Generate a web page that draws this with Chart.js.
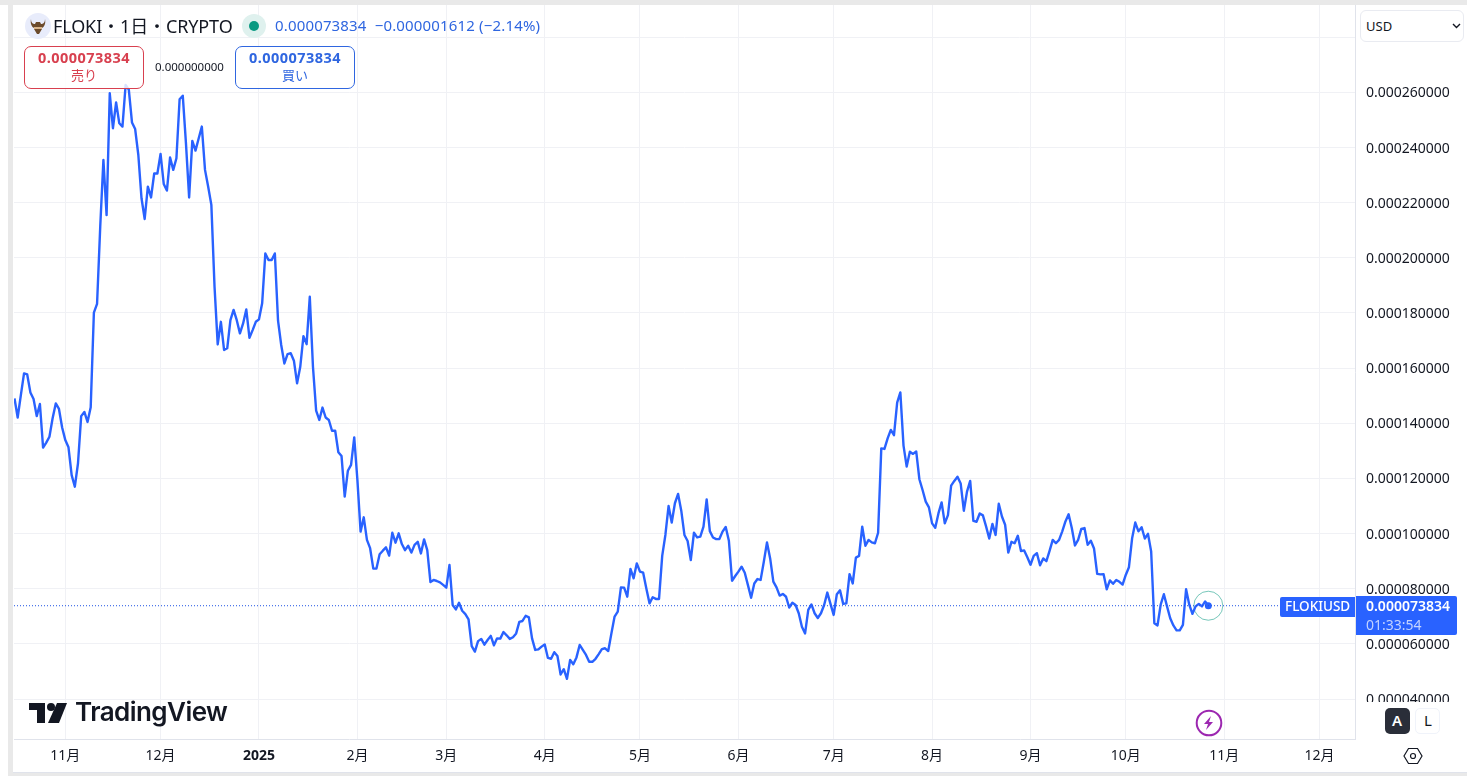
<!DOCTYPE html>
<html lang="ja">
<head>
<meta charset="utf-8">
<title>FLOKIUSD</title>
<script src="https://cdn.jsdelivr.net/npm/chart.js@4"></script>
<style>
  html, body { margin: 0; padding: 0; background: #fff; overflow: hidden; }
  body { width: 1467px; height: 776px; position: relative; font-family: "Noto Sans", "Noto Sans CJK JP", sans-serif; color: #131722; }
  #chartWrap { position: absolute; left: 0; top: 0; width: 1467px; height: 776px; }
  .box { position: absolute; box-sizing: border-box; }
  .txt { position: absolute; white-space: nowrap; line-height: 1; }
  .btn { border-radius: 7px; border: 1px solid; background: rgba(255,255,255,.82); text-align: center; width: 120px; height: 43px; top: 46px; font-size: 13px; line-height: 16px; padding-top: 1px; }
  .btn b { display: block; font-size: 14.5px; font-weight: 700; line-height: 19px; letter-spacing: .45px; }
</style>
</head>
<body>
<div id="chartWrap"><canvas id="priceChart" width="1467" height="776"></canvas></div>

<!-- window edges -->
<div class="box" style="left:0;top:0;width:1467px;height:5px;background:#e9e9e9"></div>
<div class="box" style="left:8px;top:0;width:5px;height:776px;background:#e9e9e9"></div>
<div class="box" style="left:13px;top:773px;width:1454px;height:3px;background:#e9e9e9"></div>
<div class="box" style="left:13px;top:772px;width:1454px;height:1px;background:#e0e3eb"></div>

<!-- header -->
<svg class="box" style="left:25px;top:13px" width="26" height="26" viewBox="0 0 26 26">
  <circle cx="13" cy="13" r="13" fill="#e8ecfb"/>
  <path d="M6 6c0 4 2 5 4 5l1-2h4l1 2c2 0 4-1 4-5 1 5-1 8-3 9v1l-3 5h-2l-3-5v-1c-2-1-4-4-3-9z" fill="#6b4a2b"/>
  <rect x="9" y="14" width="8" height="2" fill="#d9b48a"/>
</svg>
<div class="txt" style="left:53px;top:17px;font-size:18px;letter-spacing:-.12px">FLOKI・1日・CRYPTO</div>
<div class="box" style="left:242px;top:14px;width:24px;height:24px;border-radius:50%;background:#dff1ee"></div>
<div class="box" style="left:249px;top:21px;width:10px;height:10px;border-radius:50%;background:#089981"></div>
<div class="txt" style="left:275px;top:18px;font-size:15px;letter-spacing:.16px;color:#2f66e0">0.000073834&nbsp; −0.000001612 (−2.14%)</div>

<div class="box btn" style="left:24px;border-color:#d8404f;color:#d8404f"><b>0.000073834</b>売り</div>
<div class="txt" style="left:155px;top:61px;font-size:11.5px">0.000000000</div>
<div class="box btn" style="left:235px;border-color:#2f66e0;color:#2f66e0"><b>0.000073834</b>買い</div>

<!-- currency select -->
<div class="box" style="left:1356px;top:5px;width:111px;height:50px;background:#fff"></div>
<div class="box" style="left:1360px;top:10px;width:104px;height:32px;border:1px solid #e9ebf1;border-radius:6px"></div>
<div class="txt" style="left:1366px;top:20px;font-size:13px">USD</div>
<svg class="box" style="left:1452px;top:23px" width="9" height="6" viewBox="0 0 9 6"><path d="M1 1l3.5 3.5L8 1" fill="none" stroke="#131722" stroke-width="1.4"/></svg>

<!-- current price labels -->
<div class="box" style="left:1280px;top:597px;width:75px;height:20px;background:#2962ff;border-radius:2px 0 0 2px"></div>
<div class="txt" style="left:1285px;top:600px;font-size:13.5px;font-weight:500;color:#fff">FLOKIUSD</div>
<div class="box" style="left:1356px;top:596px;width:101px;height:39px;background:#2962ff;border-radius:0 2px 2px 0"></div>
<div class="txt" style="left:1366px;top:599px;font-size:14px;font-weight:600;color:#fff">0.000073834</div>
<div class="txt" style="left:1366px;top:618px;font-size:14px;color:#c3d3ff">01:33:54</div>

<!-- watermark -->
<svg class="box" style="left:28px;top:702px" width="40" height="22" viewBox="0 0 40 22">
  <path d="M1 1h16v20h-8V8H1z" fill="#131722"/>
  <circle cx="23" cy="5" r="4" fill="#131722"/>
  <path d="M29 1h10l-8 20H20z" fill="#131722"/>
</svg>
<div class="txt" style="left:75px;top:699px;font-size:26px;font-weight:600;font-family:Inter,'Noto Sans',sans-serif;letter-spacing:-.55px">TradingView</div>

<!-- bolt mark -->
<svg class="box" style="left:1195px;top:709px" width="28" height="28" viewBox="0 0 28 28">
  <circle cx="14" cy="14" r="12.3" fill="#fff" stroke="#9c27b0" stroke-width="2"/>
  <path d="M16 7l-7 8h4l-2 6 7-8h-4z" fill="#9c27b0"/>
</svg>

<!-- scale mode buttons -->
<div class="box" style="left:1356px;top:702px;width:111px;height:37px;background:#fff"></div>
<div class="box" style="left:1385px;top:708px;width:25px;height:26px;background:#2a2e39;border-radius:5px"></div>
<div class="txt" style="left:1392px;top:713px;font-size:15px;font-weight:600;color:#fff">A</div>
<div class="box" style="left:1415px;top:708px;width:25px;height:26px;border:1px solid #f0f3fa;border-radius:5px"></div>
<div class="txt" style="left:1424px;top:713px;font-size:15px">L</div>
<svg class="box" style="left:1403px;top:747px" width="20" height="18" viewBox="0 0 20 18">
  <path d="M5.5 1.5h9L19 9l-4.5 7.5h-9L1 9z" fill="none" stroke="#131722" stroke-width="1.2"/>
  <circle cx="10" cy="9" r="2.5" fill="none" stroke="#131722" stroke-width="1.2"/>
</svg>

<script>
// one close per day, starting 2024-10-16, in millionths of a dollar
const closes = [
  149.0, 142.1, 150.2, 158.1, 157.7, 151.2, 148.8, 142.6, 147.0, 131.2,
  133.0, 135.1, 141.8, 147.2, 145.2, 138.5, 133.9, 131.3, 121.2, 117.0,
  125.5, 142.6, 144.1, 140.5, 145.8, 180.1, 183.3, 211.3, 235.5, 215.5,
  259.7, 247.0, 256.4, 248.8, 247.6, 262.7, 261.0, 249.1, 246.7, 237.3,
  221.6, 214.1, 225.8, 221.9, 230.6, 230.6, 237.7, 226.8, 224.4, 236.4,
  231.9, 236.1, 257.5, 258.8, 241.5, 221.9, 242.4, 238.9, 243.3, 247.6,
  231.9, 225.8, 219.2, 189.5, 168.6, 176.8, 166.6, 167.2, 177.4, 181.1,
  177.4, 172.6, 176.2, 181.3, 171.0, 173.8, 176.8, 177.7, 183.5, 201.6,
  199.2, 199.2, 201.6, 177.2, 168.4, 161.7, 165.1, 165.4, 162.7, 154.5,
  160.5, 171.6, 168.7, 185.9, 160.5, 144.6, 141.2, 145.7, 142.1, 141.2,
  137.3, 137.3, 129.5, 128.1, 113.4, 122.8, 124.9, 134.9, 119.4, 100.7,
  105.9, 97.7, 94.7, 87.3, 87.3, 92.5, 93.8, 95.0, 92.0, 100.3,
  96.7, 100.1, 96.2, 94.0, 95.6, 93.1, 95.9, 97.0, 92.8, 97.9,
  94.0, 82.4, 83.2, 82.8, 82.3, 81.4, 80.4, 88.6, 74.1, 72.5,
  74.9, 72.0, 70.8, 68.9, 59.2, 57.2, 61.0, 61.8, 59.7, 61.4,
  62.9, 59.5, 62.0, 61.9, 64.3, 63.1, 61.8, 62.4, 63.8, 68.0,
  68.3, 70.2, 69.6, 62.0, 57.8, 58.0, 59.0, 59.8, 54.9, 54.6,
  57.0, 55.6, 48.9, 50.8, 47.3, 54.2, 52.6, 55.1, 59.6, 57.8,
  56.0, 53.5, 53.5, 54.6, 56.3, 58.1, 58.4, 57.4, 63.8, 69.9,
  71.7, 80.5, 80.4, 77.1, 87.2, 83.8, 89.2, 86.2, 85.8, 80.1,
  74.7, 76.9, 76.3, 76.3, 91.9, 99.5, 110.0, 104.0, 111.0, 114.4,
  108.3, 99.5, 97.3, 90.4, 100.3, 98.6, 98.9, 102.5, 112.4, 100.9,
  98.6, 98.0, 98.0, 100.7, 102.4, 97.4, 82.9, 84.6, 86.2, 88.0,
  85.8, 81.3, 76.7, 81.9, 83.5, 83.2, 89.8, 96.8, 91.0, 82.6,
  80.5, 77.5, 78.1, 77.1, 73.2, 74.9, 74.1, 71.1, 66.2, 63.8,
  72.3, 74.3, 71.1, 69.4, 71.1, 74.1, 78.6, 74.5, 70.5, 78.0,
  79.4, 74.5, 74.7, 85.3, 81.9, 91.3, 91.9, 102.5, 95.6, 97.7,
  96.8, 96.5, 100.3, 130.9, 130.7, 134.5, 137.6, 135.7, 147.5, 151.2,
  131.9, 124.3, 129.7, 128.9, 129.8, 119.7, 115.8, 111.6, 109.5, 103.7,
  102.1, 107.3, 111.3, 103.7, 106.7, 117.4, 119.1, 120.6, 118.2, 108.3,
  115.2, 119.1, 104.6, 104.3, 107.3, 106.6, 102.6, 98.2, 103.5, 99.5,
  110.8, 106.2, 103.2, 93.1, 97.0, 96.5, 99.2, 93.7, 93.9, 91.4,
  88.7, 91.9, 92.9, 88.5, 91.0, 90.0, 93.7, 97.7, 96.5, 97.7,
  100.8, 104.4, 107.0, 102.0, 95.7, 97.7, 101.7, 102.0, 95.9, 97.4,
  94.6, 85.4, 85.2, 85.3, 79.8, 83.0, 81.8, 83.2, 82.5, 81.5,
  85.0, 87.8, 98.3, 104.0, 100.8, 102.3, 98.2, 99.9, 93.5, 67.5,
  66.7, 74.2, 78.0, 73.6, 69.3, 66.7, 64.9, 64.9, 66.9, 79.8,
  74.2, 70.9, 73.6, 74.5, 73.6, 75.4, 73.834
];
const lastClose = 73.834;

// days since the first close, and what the time axis prints there
const monthTickDays = [16, 46, 77, 108, 136, 167, 197, 228, 258, 289, 320, 350, 381, 411];
const monthTickLabels = ["11月", "12月", "2025", "2月", "3月", "4月", "5月", "6月", "7月", "8月", "9月", "10月", "11月", "12月"];

const uiFont = '"Noto Sans", "Noto Sans CJK JP", sans-serif';
const priceLine = closes.map((v, i) => ({ x: i, y: v }));

// chart area has to sit exactly on the panes, so drop the label overhang
function noOverhang(scale) {
  scale.paddingLeft = 0;
  scale.paddingRight = 0;
  scale.paddingTop = 0;
  scale.paddingBottom = 0;
}

const ctx = document.getElementById("priceChart").getContext("2d");
const chart = new Chart(ctx, {
  type: "line",
  data: {
    datasets: [
      {
        // current price line
        data: [{ x: -0.16, y: lastClose }, { x: 398.5, y: lastClose }],
        borderColor: "#1e53e5",
        borderWidth: 1,
        borderDash: [1, 2],
        pointRadius: 0,
      },
      {
        label: "FLOKIUSD",
        data: priceLine,
        borderColor: "#2962ff",
        borderWidth: 2.4,
        borderJoinStyle: "round",
        tension: 0,
        pointRadius: 0,
      },
      {
        // last close dot
        data: [priceLine[priceLine.length - 1]],
        pointRadius: 3.5,
        pointBackgroundColor: "#2962ff",
        pointBorderWidth: 0,
      },
      {
        // market-open ring
        data: [priceLine[priceLine.length - 1]],
        pointRadius: 14.5,
        pointBackgroundColor: "rgba(255,255,255,0)",
        pointBorderColor: "rgba(8,153,129,.55)",
        pointBorderWidth: 1,
      },
    ],
  },
  options: {
    responsive: false,
    animation: false,
    devicePixelRatio: 1,
    layout: { autoPadding: false, padding: { left: 14, top: 5, right: 0, bottom: 0 } },
    plugins: { legend: { display: false }, tooltip: { enabled: false } },
    scales: {
      x: {
        type: "linear",
        min: -0.16,
        max: 422.2,
        afterBuildTicks: (scale) => {
          scale.ticks = monthTickDays.map((d) => ({ value: d }));
        },
        afterFit: (scale) => {
          scale.height = 37;
          noOverhang(scale);
        },
        grid: { color: "#f0f1f5", drawTicks: false },
        border: { color: "#e0e3eb" },
        ticks: {
          autoSkip: false,
          maxRotation: 0,
          padding: 9,
          color: "#131722",
          font: (c) => ({
            family: uiFont,
            size: 14,
            weight: c.tick && monthTickLabels[monthTickDays.indexOf(c.tick.value)] === "2025" ? "700" : "400",
          }),
          callback: (value) => monthTickLabels[monthTickDays.indexOf(value)],
        },
      },
      y: {
        position: "right",
        min: 25.5,
        max: 291.7,
        afterFit: (scale) => {
          scale.width = 112;
          noOverhang(scale);
        },
        grid: { color: "#f0f1f5", drawTicks: false },
        border: { color: "#e0e3eb" },
        ticks: {
          stepSize: 20,
          includeBounds: false,
          padding: 11,
          labelOffset: 1,
          color: "#131722",
          font: { family: uiFont, size: 14 },
          callback: (value) => (value / 1e6).toFixed(9),
        },
      },
    },
  },
});
</script>
</body>
</html>
